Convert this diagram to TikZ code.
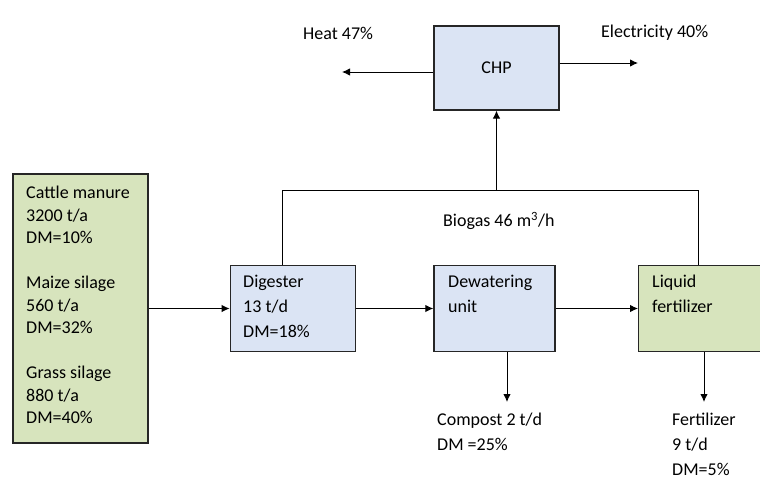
\documentclass[tikz,border=0pt]{standalone}
\usepackage{fontspec}
\setmainfont{Carlito}
\usepackage{xcolor}
\usetikzlibrary{positioning,arrows.meta}
\definecolor{feedgreen}{RGB}{215,228,189}
\definecolor{unitblue}{RGB}{219,228,244}

\begin{document}
\begin{tikzpicture}[x=1pt, y=-1pt,
    feedbox/.style={draw=black!85, line width=1.2pt, fill=feedgreen,
        minimum width=135pt, minimum height=269pt, inner sep=0pt},
    unitbox/.style={draw=black!85, line width=1.2pt, fill=unitblue,
        minimum width=125pt, minimum height=86pt, inner sep=0pt},
    txt/.style={font=\fontsize{18}{25}\selectfont, align=left, inner sep=0pt},
    flow/.style={-{Latex[length=8pt,width=7.5pt]}, line width=1pt},
    pipe/.style={line width=1pt},
]
\useasboundingbox (0,0) rectangle (760,485);

% Main chain of units
\node[feedbox] (feed) at (80.5,308.5) {};
\node[unitbox, right=81pt of feed] (dig) {};
\node[unitbox, minimum width=121pt, right=77.5pt of dig] (dew) {};
\node[unitbox, fill=feedgreen, right=82.5pt of dew] (liq) {};
\node[unitbox, minimum height=84pt] (chp) at (496.5,68) {\fontsize{18}{21}\selectfont CHP};

% Box texts
\node[txt, font=\fontsize{18}{22.5}\selectfont, anchor=north west] (feedtxt) at (26,186)
    {Cattle manure\\3200 t/a\\DM=10\%\\[22.5pt]Maize silage\\560 t/a\\DM=32\%\\[22.5pt]Grass silage\\880 t/a\\DM=40\%};
\node[txt, anchor=north west] (digtxt) at (243,275) {Digester\\13 t/d\\DM=18\%};
\node[txt, anchor=north west] (dewtxt) at (448,275) {Dewatering\\unit};
\node[txt, anchor=north west] (liqtxt) at (652,275) {Liquid\\fertilizer};

% Flow arrows
\draw[flow] (feed) -- (dig);
\draw[flow] (dig) -- (dew);
\draw[flow] (dew) -- (liq);

% Biogas line to CHP
\coordinate (gasleft) at (282,190);
\coordinate (gasright) at (698,190);
\draw[pipe] (gasleft |- dig.north) -- (gasleft) -- (gasright) -- (gasright |- liq.north);
\draw[flow] (chp.south |- gasleft) -- (chp.south);
\node[txt, anchor=west] (biogas) at (443,221) {Biogas 46 m\textsuperscript{3}/h};

% CHP outputs
\coordinate (heatend) at (342,72);
\coordinate (elecend) at (638,63);
\draw[flow] (chp.west |- heatend) -- (heatend);
\draw[flow] (chp.east |- elecend) -- (elecend);
\node[txt, anchor=west] (heat) at (303,33) {Heat 47\%};
\node[txt, anchor=west] (elec) at (601,33) {Electricity 40\%};

% Products
\coordinate (compend) at (507,402);
\coordinate (fertend) at (704,402);
\draw[flow] (dew.south -| compend) -- (compend);
\draw[flow] (liq.south -| fertend) -- (fertend);
\node[txt, anchor=north west] (compost) at (437,413) {Compost 2 t/d\\DM =25\%};
\node[txt, anchor=north west] (fert) at (672,413) {Fertilizer\\9 t/d\\DM=5\%};

\end{tikzpicture}
\end{document}
